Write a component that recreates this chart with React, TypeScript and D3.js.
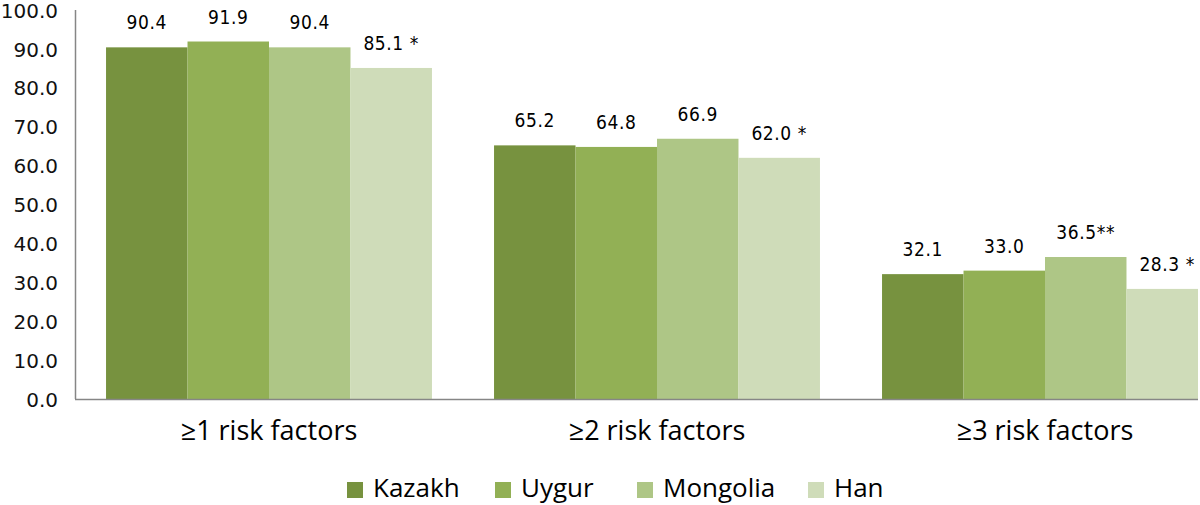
import { useEffect, useRef } from 'react';
import * as d3 from 'd3';

const categories = ['≥1 risk factors', '≥2 risk factors', '≥3 risk factors'];
const groups = ['Kazakh', 'Uygur', 'Mongolia', 'Han'];
const values = [
  [90.4, 91.9, 90.4, 85.1],
  [65.2, 64.8, 66.9, 62.0],
  [32.1, 33.0, 36.5, 28.3],
];
const marks = [
  ['', '', '', ' *'],
  ['', '', '', ' *'],
  ['', '', '**', ' *'],
];
const yTicks = [0, 10, 20, 30, 40, 50, 60, 70, 80, 90, 100];
const colors = ['#77923f', '#92b055', '#aec686', '#cfdcb9'];

export default function App() {
  const svgRef = useRef<SVGSVGElement>(null);
  const width = 1200;
  const height = 505;

  useEffect(() => {
    if (!svgRef.current) return;
    const svg = d3.select(svgRef.current);
    svg.selectAll('*').remove();

    const left = 75;
    const plotRight = 1198;
    const top = 10;
    const bottom = 399;

    // band range runs past the right edge; the original is cropped there
    const x0 = d3.scaleBand<string>()
      .domain(categories)
      .range([left, 1239])
      .paddingInner(0.16)
      .paddingOuter(0.08);
    const x1 = d3.scaleBand<string>()
      .domain(groups)
      .range([0, x0.bandwidth()]);
    const y = d3.scaleLinear().domain([0, 100]).range([bottom, top]);

    svg.append('defs')
      .append('clipPath')
      .attr('id', 'plot-clip')
      .append('rect')
      .attr('x', left)
      .attr('y', 0)
      .attr('width', plotRight - left)
      .attr('height', height);

    const plot = svg.append('g').attr('clip-path', 'url(#plot-clip)');

    categories.forEach((cat, ci) => {
      const g = plot.append('g').attr('transform', `translate(${x0(cat)},0)`);
      groups.forEach((grp, gi) => {
        const v = values[ci][gi];
        g.append('rect')
          .attr('x', x1(grp)!)
          .attr('y', y(v))
          .attr('width', x1.bandwidth())
          .attr('height', y(0) - y(v))
          .attr('fill', colors[gi]);
        g.append('text')
          .attr('x', x1(grp)! + x1.bandwidth() / 2)
          .attr('y', y(v) - 18)
          .attr('text-anchor', 'middle')
          .attr('font-family', 'DejaVu Sans Condensed')
          .attr('font-size', 19)
          .attr('letter-spacing', 0.6)
          .attr('fill', '#000')
          .text(v.toFixed(1) + marks[ci][gi]);
      });
    });

    // axes lines
    svg.append('line')
      .attr('x1', left + 0.5).attr('x2', left + 0.5)
      .attr('y1', top).attr('y2', bottom)
      .attr('stroke', '#868686').attr('stroke-width', 1.5);
    svg.append('line')
      .attr('x1', left).attr('x2', plotRight)
      .attr('y1', bottom + 0.5).attr('y2', bottom + 0.5)
      .attr('stroke', '#868686').attr('stroke-width', 1.5);

    svg.append('g')
      .selectAll('text')
      .data(yTicks)
      .join('text')
      .attr('x', 58)
      .attr('y', d => y(d))
      .attr('dy', '0.38em')
      .attr('text-anchor', 'end')
      .attr('font-family', 'DejaVu Sans')
      .attr('font-size', 20)
      .attr('fill', '#111')
      .text(d => d.toFixed(1));

    svg.append('g')
      .selectAll('text')
      .data(categories)
      .join('text')
      .attr('x', d => x0(d)! + x0.bandwidth() / 2)
      .attr('y', 440)
      .attr('text-anchor', 'middle')
      .attr('font-family', 'Open Sans')
      .attr('font-size', 27)
      .attr('fill', '#000')
      .text(d => d);

    // legend
    const legendX = [347, 495, 637, 808];
    const legend = svg.append('g');
    groups.forEach((grp, i) => {
      legend.append('rect')
        .attr('x', legendX[i])
        .attr('y', 482)
        .attr('width', 16)
        .attr('height', 16)
        .attr('fill', colors[i]);
      legend.append('text')
        .attr('x', legendX[i] + 26)
        .attr('y', 497)
        .attr('font-family', 'Open Sans')
        .attr('font-size', 26)
        .attr('fill', '#000')
        .text(grp);
    });
  }, []);

  return (
    <svg
      ref={svgRef}
      width={width}
      height={height}
      style={{ position: 'absolute', left: 0, top: 0, background: '#fff' }}
    />
  );
}
